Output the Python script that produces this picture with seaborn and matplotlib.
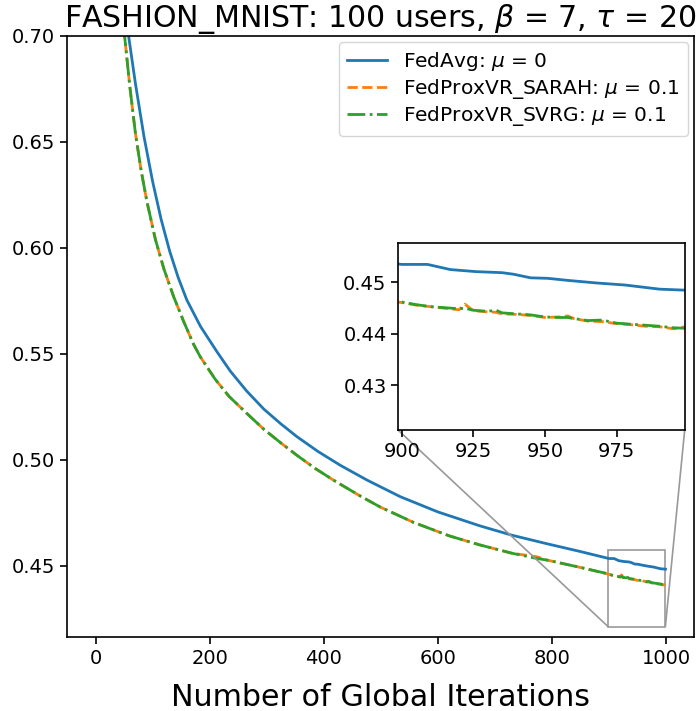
import numpy as np
import pandas as pd
import matplotlib
matplotlib.use("Agg")
import matplotlib.pyplot as plt
import seaborn as sns
from mpl_toolkits.axes_grid1.inset_locator import mark_inset

# ---- data ----
x_avg = [20, 40, 58, 70, 85, 100, 115, 130, 145, 160, 184, 213, 236, 265, 295,
         325, 353, 390, 429, 476, 534, 600, 674, 730, 791, 850, 900, 909, 917,
         926, 935, 939, 945, 951, 958, 968, 978, 990, 999]
fedavg = [0.830, 0.745, 0.700, 0.6775, 0.6525, 0.6315, 0.6135, 0.5985, 0.5860,
          0.5755, 0.5630, 0.5510, 0.5420, 0.5325, 0.5240, 0.5170, 0.5110, 0.5040,
          0.4975, 0.4905, 0.4827, 0.4755, 0.4689, 0.4645, 0.4605, 0.4568, 0.4535,
          0.4535, 0.4525, 0.4521, 0.4519, 0.4516, 0.4509, 0.4508, 0.4504, 0.4499,
          0.4495, 0.4487, 0.4485]

x_prox = [20, 35, 51, 60, 70, 80, 90, 105, 120, 137, 155, 172, 184, 210, 234, 265,
          295, 325, 353, 385, 417, 464, 499, 557, 620, 674, 730, 774, 791, 850,
          900, 905, 910, 915, 920, 922, 925, 930, 933, 935, 940, 945, 950, 955,
          958, 960, 965, 970, 975, 980, 985, 990, 995, 999]
sarah = [0.805, 0.750, 0.700, 0.6765, 0.6540, 0.6365, 0.6220, 0.6040, 0.5900,
         0.5770, 0.5650, 0.5545, 0.5485, 0.5380, 0.5300, 0.5220, 0.5145, 0.5080,
         0.5022, 0.4960, 0.4905, 0.4830, 0.4778, 0.4706, 0.4642, 0.4599, 0.4560,
         0.4543, 0.4528, 0.4493, 0.4461, 0.4456, 0.4453, 0.4450, 0.4447, 0.4458,
         0.4445, 0.4443, 0.4442, 0.4439, 0.4438, 0.4436, 0.4432, 0.4433, 0.4435,
         0.4430, 0.4425, 0.4424, 0.4420, 0.4418, 0.4415, 0.4414, 0.4410, 0.4414]
svrg = [0.805, 0.750, 0.700, 0.6765, 0.6540, 0.6365, 0.6220, 0.6040, 0.5900,
        0.5770, 0.5650, 0.5545, 0.5485, 0.5380, 0.5300, 0.5220, 0.5145, 0.5080,
        0.5022, 0.4960, 0.4905, 0.4830, 0.4778, 0.4706, 0.4642, 0.4599, 0.4560,
        0.4535, 0.4528, 0.4493, 0.4462, 0.4457, 0.4453, 0.4451, 0.4449, 0.4450,
        0.4446, 0.4444, 0.4446, 0.4441, 0.4439, 0.4437, 0.4433, 0.4432, 0.4432,
        0.4430, 0.4426, 0.4427, 0.4421, 0.4419, 0.4417, 0.4415, 0.4412, 0.4411]

labels = [r"FedAvg: $\mu$ = 0", r"FedProxVR_SARAH: $\mu$ = 0.1",
          r"FedProxVR_SVRG: $\mu$ = 0.1"]
title = r"FASHION_MNIST: 100 users, $\beta$ = 7, $\tau$ = 20"
xlabel = "Number of Global Iterations"
main_yticks = [0.45, 0.50, 0.55, 0.60, 0.65, 0.70]
main_xticks = [0, 200, 400, 600, 800, 1000]
inset_xticks = [900, 925, 950, 975]
inset_yticks = [0.43, 0.44, 0.45]

pal = sns.color_palette("tab10")
colors = [pal[0], pal[1], pal[2]]
styles = ["-", "--", "-."]
series = [(x_avg, fedavg), (x_prox, sarah), (x_prox, svrg)]

plt.rcParams["font.family"] = ["DejaVu Sans"]
plt.rcParams["mathtext.fontset"] = "dejavusans"

fig = plt.figure(figsize=(6.97, 7.11), dpi=100)
ax = fig.add_axes([0.0961, 0.1041, 0.8996, 0.8453])


def draw(a, with_label):
    for (xs, ys), c, ls, lab in zip(series, colors, styles, labels):
        sns.lineplot(x=xs, y=ys, ax=a, color=c, linestyle=ls, linewidth=2,
                     label=lab if with_label else None, sort=False,
                     estimator=None)


draw(ax, True)
ax.set_xlim(-50, 1049)
ax.set_ylim(0.4165, 0.70)
ax.set_xticks(main_xticks)
ax.set_yticks(main_yticks)
ax.set_yticklabels([f"{v:.2f}" for v in main_yticks])
ax.tick_params(labelsize=14, length=5, width=1.2)
for s in ax.spines.values():
    s.set_linewidth(1.2)
ax.set_title(title, fontsize=21.6, pad=6)
ax.set_xlabel(xlabel, fontsize=21.7, labelpad=11)
ax.set_ylabel("")
ax.legend(loc="upper right", fontsize=14.5, handlelength=2.0,
          labelspacing=0.18, borderaxespad=0.3)

axins = fig.add_axes([0.5715, 0.3948, 0.4108, 0.263])
draw(axins, False)
axins.set_xlim(898.8, 998.8)
axins.set_ylim(0.4213, 0.4576)
axins.set_xticks(inset_xticks)
axins.set_yticks(inset_yticks)
axins.set_yticklabels([f"{v:.2f}" for v in inset_yticks])
axins.tick_params(labelsize=14, length=5, width=1.2)
for s in axins.spines.values():
    s.set_linewidth(1.2)
axins.set_ylabel("")
if axins.get_legend() is not None:
    axins.get_legend().remove()

mark_inset(ax, axins, loc1=3, loc2=4, fc="none", ec="0.6", lw=1.2)

fig.savefig("out.png", dpi=100)
